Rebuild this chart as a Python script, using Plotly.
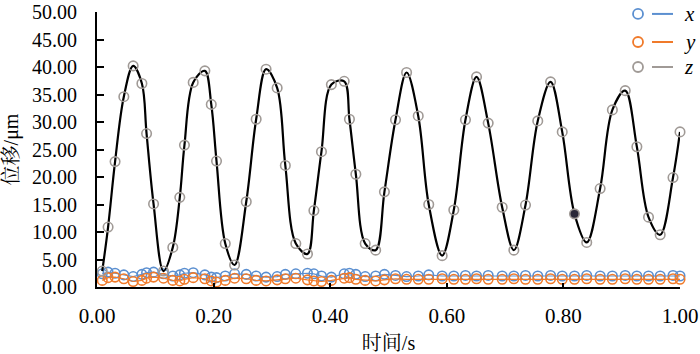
import plotly.graph_objects as go

# sample times (s)
t = [0.009, 0.019, 0.031, 0.046, 0.062, 0.077, 0.085, 0.097, 0.114, 0.130,
     0.142, 0.150, 0.165, 0.185, 0.196, 0.205, 0.220, 0.236, 0.256, 0.273,
     0.290, 0.309, 0.323, 0.341, 0.361, 0.372, 0.385, 0.402, 0.424, 0.433,
     0.444, 0.460, 0.478, 0.493, 0.512, 0.531, 0.551, 0.569, 0.592, 0.612,
     0.632, 0.651, 0.671, 0.695, 0.715, 0.735, 0.756, 0.778, 0.798, 0.819,
     0.840, 0.863, 0.884, 0.906, 0.926, 0.946, 0.966, 0.988, 1.000]

# displacement (um)
z = [2.9, 10.9, 22.8, 34.6, 40.2, 37.0, 27.9, 15.1, 2.9, 7.2,
     16.3, 25.8, 37.2, 39.3, 33.2, 22.9, 7.9, 4.0, 15.5, 30.5,
     39.6, 36.2, 22.1, 7.9, 6.0, 13.9, 24.6, 36.8, 37.4, 30.5,
     20.5, 7.9, 6.7, 17.3, 30.4, 39.0, 31.1, 15.0, 5.7, 14.0,
     30.4, 38.2, 29.8, 14.5, 6.7, 14.9, 30.2, 37.3, 28.2, 13.3,
     8.1, 17.9, 32.2, 35.7, 25.5, 12.7, 9.5, 19.9, 28.2]

x = [2.4, 2.7, 2.5, 2.2, 1.9, 2.3, 2.6, 2.7, 2.4, 2.0,
     2.2, 2.5, 2.6, 2.2, 1.8, 1.7, 2.0, 2.4, 2.3, 2.0,
     1.8, 1.9, 2.3, 2.4, 2.5, 2.4, 2.0, 1.8, 2.4, 2.5,
     2.3, 1.9, 2.0, 2.3, 2.1, 1.9, 2.0, 2.2, 2.0, 2.0,
     2.1, 2.0, 2.1, 2.0, 2.0, 2.1, 2.0, 2.1, 2.0, 2.0,
     2.1, 2.0, 2.0, 2.1, 2.0, 2.0, 2.0, 2.1, 2.0]

y = [1.2, 1.7, 1.8, 1.5, 1.0, 1.2, 1.6, 1.8, 1.6, 1.2,
     1.1, 1.4, 1.7, 1.5, 1.1, 0.9, 1.2, 1.6, 1.5, 1.2,
     1.1, 1.3, 1.5, 1.6, 1.3, 1.1, 1.0, 1.2, 1.6, 1.7,
     1.4, 1.2, 1.1, 1.3, 1.5, 1.4, 1.4, 1.4, 1.5, 1.4,
     1.4, 1.5, 1.4, 1.4, 1.5, 1.4, 1.4, 1.5, 1.4, 1.4,
     1.5, 1.4, 1.4, 1.5, 1.4, 1.4, 1.4, 1.5, 1.4]

highlight_index = 49

series_names = ["x", "y", "z"]
series_colors = ["#5b8fd0", "#f07a2a", "#a09a96"]

x_ticks = [0.0, 0.2, 0.4, 0.6, 0.8, 1.0]
y_ticks = [0, 5, 10, 15, 20, 25, 30, 35, 40, 45, 50]

SERIF = "Times New Roman, Liberation Serif, Noto Serif CJK SC, Noto Sans CJK SC, serif"

fig = go.Figure()

fig.add_trace(go.Scatter(
    x=t, y=x, mode="lines+markers", name="x", cliponaxis=False,
    line=dict(color=series_colors[0], width=1.2),
    marker=dict(symbol="circle", size=9.5, color="rgba(0,0,0,0)",
                line=dict(color=series_colors[0], width=1.6)),
    showlegend=False))
fig.add_trace(go.Scatter(
    x=t, y=y, mode="lines+markers", name="y", cliponaxis=False,
    line=dict(color=series_colors[1], width=1.2),
    marker=dict(symbol="circle", size=9.5, color="rgba(0,0,0,0)",
                line=dict(color=series_colors[1], width=1.6)),
    showlegend=False))
fig.add_trace(go.Scatter(
    x=t, y=z, mode="lines", cliponaxis=False,
    line=dict(color="black", width=2.2, shape="spline", smoothing=1.0),
    showlegend=False, hoverinfo="skip"))
fill = ["rgba(0,0,0,0)"] * len(t)
fill[highlight_index] = "#2a2838"
fig.add_trace(go.Scatter(
    x=t, y=z, mode="markers", name="z", cliponaxis=False,
    marker=dict(symbol="circle", size=9.5, color=fill,
                line=dict(color=series_colors[2], width=1.6)),
    showlegend=False))

# manual legend (circle, line segment, italic label)
rows_y = [0.993, 0.891, 0.800]
for name, col, ry in zip(series_names, series_colors, rows_y):
    fig.add_shape(type="circle", xref="paper", yref="paper",
                  xsizemode="pixel", ysizemode="pixel",
                  xanchor=0.928, yanchor=ry, x0=-5, x1=5, y0=-5, y1=5,
                  line=dict(color=col, width=1.8))
    fig.add_shape(type="line", xref="paper", yref="paper",
                  x0=0.952, x1=0.988, y0=ry, y1=ry,
                  line=dict(color=col, width=2))
    fig.add_annotation(xref="paper", yref="paper", x=1.003, y=ry,
                       xanchor="left", yanchor="middle", showarrow=False,
                       text="<i>%s</i>" % name,
                       font=dict(family=SERIF, size=21, color="black"))

fig.update_layout(
    width=700, height=354,
    margin=dict(l=97, r=20, t=12, b=67, autoexpand=False),
    paper_bgcolor="white", plot_bgcolor="white",
    font=dict(family=SERIF, size=20, color="black"),
    xaxis=dict(range=[0, 1], tickvals=x_ticks,
               ticktext=["%.2f" % v for v in x_ticks],
               showgrid=False, zeroline=False, showline=True,
               linecolor="black", linewidth=2, automargin=False,
               ticks="inside", ticklen=4, tickwidth=1.5, tickcolor="black",
               ticklabelstandoff=9, ticklabeloverflow="allow",
               tickfont=dict(size=21),
               title=dict(text="时间/s", standoff=16,
                          font=dict(family=SERIF, size=20))),
    yaxis=dict(range=[0, 50], tickvals=y_ticks,
               ticktext=["%.2f" % v for v in y_ticks],
               showgrid=False, zeroline=False, showline=True,
               linecolor="black", linewidth=2, automargin=False,
               ticks="inside", ticklen=7, tickwidth=1.5, tickcolor="black",
               ticklabelstandoff=14, ticklabeloverflow="allow",
               title=dict(text="位移/μm", standoff=12,
                          font=dict(family=SERIF, size=20))),
)

fig.write_html("out.html", config={"displayModeBar": False},
               post_script="document.body.style.margin='0';document.body.style.overflow='hidden';")
